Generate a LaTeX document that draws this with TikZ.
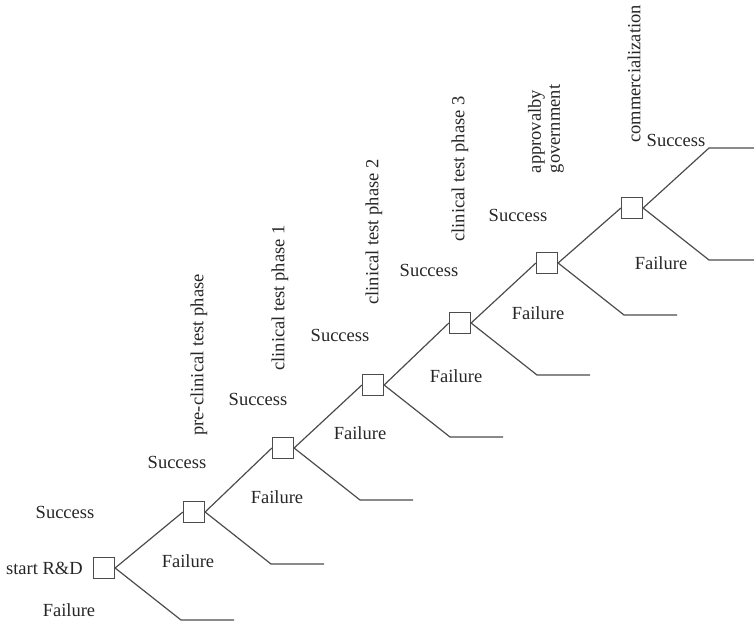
\documentclass[tikz,border=0pt]{standalone}
\usepackage{fontspec}
\setmainfont{Liberation Serif}
\usetikzlibrary{positioning}

\begin{document}
\begin{tikzpicture}[x=1pt, y=-1pt,
  every node/.style={font=\fontsize{18.5}{20}\selectfont, text=black!85, inner sep=0pt},
  box/.style={draw=black!70, line width=1.2pt, minimum size=21pt},
  wire/.style={draw=black!70, line width=1.2pt}]
  \useasboundingbox (0,0) rectangle (754,624);
  % decision boxes and the failure ends
  \foreach \x/\y [count=\i] in {104/568, 194/512, 283/448, 373/385, 460/323, 547/263, 632/208}
  {
    \node[box] (b\i) at (\x,\y) {};
    \coordinate (k\i) at (\x+77,\y+52);
    \coordinate (e\i) at (\x+130,\y+52);
  }
  \coordinate (e7) at (754,260);
  \coordinate (k8) at (709,148);
  \coordinate (e8) at (754,148);
  % branches
  \foreach \i [evaluate=\i as \j using int(\i+1)] in {1,...,6}
  {
    \draw[wire] (b\i.east) -- (b\j.west);
  }
  \foreach \i in {1,...,7}
  {
    \draw[wire] (b\i.east) -- (k\i) -- (e\i);
  }
  \draw[wire] (b7.east) -- (k8) -- (e8);
  % labels
  \node[left=10pt of b1] (start) {start R\&D};
  \foreach \x/\y [count=\i] in {65/512, 177/462, 258/399, 340/335, 429/270, 518/215, 676/140}
  {
    \node (s\i) at (\x,\y) {Success};
  }
  \foreach \x/\y [count=\i] in {69/610, 188/561, 277/497, 360/433, 456/376, 538/313, 661/263}
  {
    \node (fl\i) at (\x,\y) {Failure};
  }
  \foreach \x/\y/\txt [count=\i] in {199/355/pre-clinical test phase, 280/298/clinical test phase 1, 374/232/clinical test phase 2, 460/169/clinical test phase 3}
  {
    \node[rotate=90] (ph\i) at (\x,\y) {\txt};
  }
  \node[rotate=90, align=left, font=\fontsize{18.5}{19}\selectfont] (ph5) at (546,129) {approvalby\\government};
  \node[rotate=90] (ph6) at (634,74) {commercialization};
\end{tikzpicture}
\end{document}
